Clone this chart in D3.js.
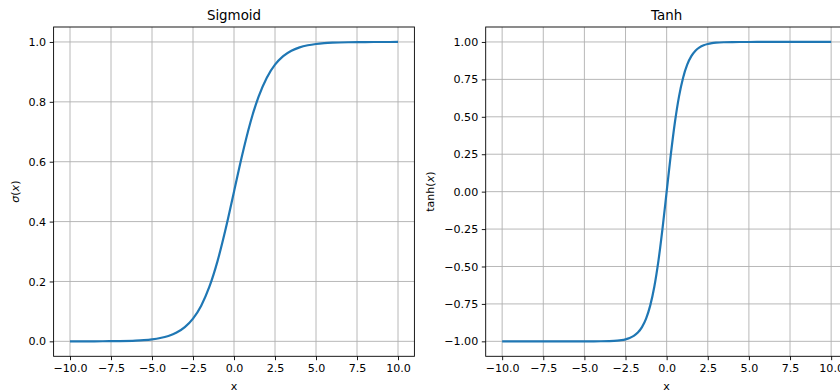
<!DOCTYPE html>
<html>
<head>
<meta charset="utf-8">
<script src="https://cdn.jsdelivr.net/npm/d3@7"></script>
<style>
  body { margin: 0; background: #fff; }
  svg text { font-family: "DejaVu Sans", sans-serif; fill: #000; }
  .tick text { font-size: 11.1px; }
  .grid line { stroke: #b0b0b0; stroke-width: 0.9; }
</style>
</head>
<body>
<svg id="svg" width="840" height="392"></svg>
<script>
// values
var sigX = [-10, -9, -8, -7, -6, -5.5, -5, -4.5, -4, -3.5, -3, -2.5, -2, -1.5, -1, -0.5, 0,
            0.5, 1, 1.5, 2, 2.5, 3, 3.5, 4, 4.5, 5, 5.5, 6, 7, 8, 9, 10];
var sigY = [0.0000, 0.0001, 0.0003, 0.0009, 0.0025, 0.0041, 0.0067, 0.0110, 0.0180, 0.0293, 0.0474, 0.0759, 0.1192, 0.1824, 0.2689, 0.3775, 0.5000,
            0.6225, 0.7311, 0.8176, 0.8808, 0.9241, 0.9526, 0.9707, 0.9820, 0.9890, 0.9933, 0.9959, 0.9975, 0.9991, 0.9997, 0.9999, 1.0000];

var tanhX = [-10, -8, -6, -5, -4, -3.5, -3, -2.75, -2.5, -2.25, -2, -1.75, -1.5, -1.25, -1, -0.75, -0.5, -0.25, 0,
             0.25, 0.5, 0.75, 1, 1.25, 1.5, 1.75, 2, 2.25, 2.5, 2.75, 3, 3.5, 4, 5, 6, 8, 10];
var tanhY = [-1.0000, -1.0000, -1.0000, -0.9999, -0.9993, -0.9982, -0.9951, -0.9919, -0.9866, -0.9780, -0.9640, -0.9414, -0.9051, -0.8483, -0.7616, -0.6351, -0.4621, -0.2449, 0.0000,
             0.2449, 0.4621, 0.6351, 0.7616, 0.8483, 0.9051, 0.9414, 0.9640, 0.9780, 0.9866, 0.9919, 0.9951, 0.9982, 0.9993, 0.9999, 1.0000, 1.0000, 1.0000];

var xTicks = [-10, -7.5, -5, -2.5, 0, 2.5, 5, 7.5, 10];
var sigTicks = [0, 0.2, 0.4, 0.6, 0.8, 1.0];
var tanhTicks = [-1, -0.75, -0.5, -0.25, 0, 0.25, 0.5, 0.75, 1];

var svg = d3.select('#svg');
svg.append('rect').attr('width', 840).attr('height', 392).attr('fill', '#fff');

function minus(s) { return s.replace('-', '\u2212'); }

function panel(opt) {
	var w = opt.right - opt.left, h = opt.bottom - opt.top;
	var g = svg.append('g').attr('transform', 'translate(' + opt.left + ',' + opt.top + ')');

	const xScale = d3.scaleLinear().domain([-11, 11]).range([0, w]);
	const yScale = d3.scaleLinear().domain(opt.ylim).range([h, 0]);

	// grid
	g.append('g').attr('class', 'grid')
	  .selectAll('line').data(xTicks).enter().append('line')
	  .attr('x1', d => xScale(d)).attr('x2', d => xScale(d))
	  .attr('y1', 0).attr('y2', h);
	g.append('g').attr('class', 'grid')
	  .selectAll('line').data(opt.yTicks).enter().append('line')
	  .attr('y1', d => yScale(d)).attr('y2', d => yScale(d))
	  .attr('x1', 0).attr('x2', w);

	// line
	var line = d3.line()
	  .x((d, i) => xScale(opt.xs[i]))
	  .y(d => yScale(d))
	  .curve(d3.curveMonotoneX);
	g.append('path')
	  .attr('d', line(opt.ys))
	  .attr('fill', 'none')
	  .attr('stroke', '#1f77b4')
	  .attr('stroke-width', 2.2);

	// axes
	var xa = g.append('g').attr('transform', 'translate(0,' + h + ')')
	  .call(d3.axisBottom(xScale).tickValues(xTicks).tickSize(3.9).tickPadding(3.6)
	    .tickFormat(d => minus(d3.format('.1f')(d))));
	var ya = g.append('g')
	  .call(d3.axisLeft(yScale).tickValues(opt.yTicks).tickSize(3.9).tickPadding(3.6)
	    .tickFormat(d => minus(d3.format(opt.yfmt)(d))));
	[xa, ya].forEach(a => {
		a.select('.domain').remove();
		a.selectAll('.tick line').attr('stroke', '#000').attr('stroke-width', 0.9);
	});

	// frame
	g.append('rect').attr('width', w).attr('height', h)
	  .attr('fill', 'none').attr('stroke', '#000').attr('stroke-width', 0.9);

	// title
	g.append('text')
	  .attr('x', w / 2).attr('y', -7)
	  .attr('text-anchor', 'middle')
	  .style('font-size', '13.4px')
	  .text(opt.title);

	g.append('text')
	  .attr('x', w / 2).attr('y', h + 33.5)
	  .attr('text-anchor', 'middle')
	  .style('font-size', '11.1px')
	  .text('x');

	var yl = svg.append('text')
	  .attr('transform', 'translate(' + opt.ylabelX + ',' + (opt.top + h / 2) + ') rotate(-90)')
	  .attr('text-anchor', 'middle')
	  .style('font-size', '11.1px');
	yl.append('tspan').text(opt.ylabel[0]).style('font-style', opt.ylabel[0] == 'tanh' ? 'normal' : 'italic');
	yl.append('tspan').text('(');
	yl.append('tspan').text('x').style('font-style', 'italic');
	yl.append('tspan').text(')');
}

panel({ left: 53.6, right: 414.4, top: 27, bottom: 356.3, ylim: [-0.05, 1.05],
        xs: sigX, ys: sigY, yTicks: sigTicks, yfmt: '.1f', title: 'Sigmoid',
        ylabel: ['\u03c3'], ylabelX: 19 });
panel({ left: 485.7, right: 847.6, top: 27, bottom: 356.3, ylim: [-1.1, 1.1],
        xs: tanhX, ys: tanhY, yTicks: tanhTicks, yfmt: '.2f', title: 'Tanh',
        ylabel: ['tanh'], ylabelX: 433.5 });
</script>
</body>
</html>
